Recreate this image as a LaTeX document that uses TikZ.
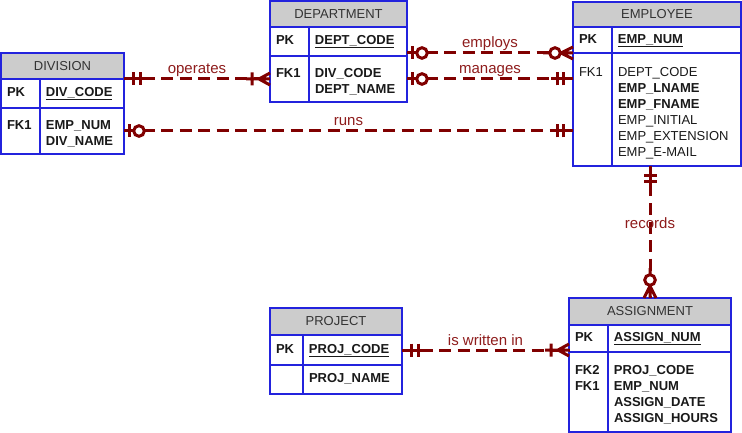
\documentclass[tikz,border=0pt]{standalone}
\usepackage{fontspec}
\setmainfont{Liberation Sans}
\usetikzlibrary{positioning}
\definecolor{eblue}{HTML}{2323DD}
\definecolor{hgray}{HTML}{CCCCCC}
\definecolor{relc}{HTML}{800000}
\definecolor{labc}{HTML}{8E1C1C}
\newcommand\keytab[3]{\begin{tabular}{@{}p{#1}@{\hspace{12pt}}p{#2}@{}}#3\end{tabular}}
\newcommand\gapstrut{\rule{0pt}{18pt}}
\tikzset{
  ehead/.style={draw=eblue,line width=1.5pt,fill=hgray,outer sep=0pt,inner sep=0pt,
    font=\fontsize{13}{16}\selectfont,text=black!80},
  erow/.style={draw=eblue,line width=1.5pt,fill=white,outer sep=0pt,inner xsep=6pt,
    inner ysep=0pt,font=\fontsize{13}{16}\selectfont,text=black!90},
  ecol/.style={draw=eblue,line width=1.5pt},
  rel/.style={draw=relc,line width=3pt,dash pattern=on 12pt off 6.5pt},
  rlab/.style={font=\fontsize{15}{18}\selectfont,text=labc,inner sep=0pt,anchor=base},
  sym/.style={draw=relc,line width=3pt,solid},
  % --- crow's foot ends, local x points away from the entity ---
  mone/.pic={\draw[sym] (0,0) -- (22,0) (9.5,-6.5) -- (9.5,6.5) (16,-6.5) -- (16,6.5);},
  zone/.pic={\draw[sym] (0,0) -- (27,0) (5,-6.5) -- (5,6.5);
    \draw[sym,fill=white] (15,0) circle[radius=5.3pt];},
  oneman/.pic={\draw[sym] (0,0) -- (24,0) (0,-6) -- (11,0) -- (0,6) (18,-6.5) -- (18,6.5);},
  zman/.pic={\draw[sym] (0,0) -- (13,0) (0,-6) -- (12,0) -- (0,6) (23,0) -- (30,0);
    \draw[sym,fill=white] (18,0) circle[radius=5.3pt];},
}
\begin{document}
\begin{tikzpicture}[x=1pt,y=-1pt]
  \useasboundingbox (0,0) rectangle (742,433);
  % DIVISION
  \node[ehead,minimum width=123pt,minimum height=26pt,anchor=north west](div) at (1,53){DIVISION};
  \node[erow,minimum width=123pt,minimum height=29pt,below=0pt of div](div-pk)
    {\bfseries\keytab{27pt}{72pt}{PK & \underline{DIV\_CODE}}};
  \node[erow,minimum width=123pt,minimum height=46pt,below=0pt of div-pk](div-fk)
    {\bfseries\keytab{27pt}{72pt}{FK1\gapstrut & EMP\_NUM\\ & DIV\_NAME}};
  \draw[ecol]([xshift=39pt]div.south west) -- ([xshift=39pt]div-fk.south west);
  % DEPARTMENT
  \node[ehead,minimum width=137pt,minimum height=26pt,anchor=north west](dept) at (270,1){DEPARTMENT};
  \node[erow,minimum width=137pt,minimum height=29pt,below=0pt of dept](dept-pk)
    {\bfseries\keytab{27pt}{86pt}{PK & \underline{DEPT\_CODE}}};
  \node[erow,minimum width=137pt,minimum height=46pt,below=0pt of dept-pk](dept-fk)
    {\bfseries\keytab{27pt}{86pt}{FK1\gapstrut & DIV\_CODE\\ & DEPT\_NAME}};
  \draw[ecol]([xshift=39pt]dept.south west) -- ([xshift=39pt]dept-fk.south west);
  % EMPLOYEE
  \node[ehead,minimum width=168pt,minimum height=25pt,anchor=north west](emp) at (573,2){EMPLOYEE};
  \node[erow,minimum width=168pt,minimum height=26pt,below=0pt of emp](emp-pk)
    {\bfseries\keytab{27pt}{117pt}{PK & \underline{EMP\_NUM}}};
  \node[erow,minimum width=168pt,minimum height=113pt,below=0pt of emp-pk](emp-fk)
    {\keytab{27pt}{117pt}{FK1\gapstrut & DEPT\_CODE\\ & \textbf{EMP\_LNAME}\\ & \textbf{EMP\_FNAME}\\
      & EMP\_INITIAL\\ & EMP\_EXTENSION\\ & EMP\_E-MAIL}};
  \draw[ecol]([xshift=39pt]emp.south west) -- ([xshift=39pt]emp-fk.south west);
  % PROJECT
  \node[ehead,minimum width=132pt,minimum height=27pt,anchor=north west](proj) at (270,308){PROJECT};
  \node[erow,minimum width=132pt,minimum height=30pt,below=0pt of proj](proj-pk)
    {\bfseries\keytab{21pt}{87pt}{PK & \underline{PROJ\_CODE}}};
  \node[erow,minimum width=132pt,minimum height=29pt,below=0pt of proj-pk](proj-at)
    {\bfseries\keytab{21pt}{87pt}{ & PROJ\_NAME}};
  \draw[ecol]([xshift=33pt]proj.south west) -- ([xshift=33pt]proj-at.south west);
  % ASSIGNMENT
  \node[ehead,minimum width=162pt,minimum height=27pt,anchor=north west](asg) at (569,298){ASSIGNMENT};
  \node[erow,minimum width=162pt,minimum height=27pt,below=0pt of asg](asg-pk)
    {\bfseries\keytab{27pt}{111pt}{PK & \underline{ASSIGN\_NUM}}};
  \node[erow,minimum width=162pt,minimum height=80pt,below=0pt of asg-pk](asg-fk)
    {\bfseries\keytab{27pt}{111pt}{FK2\gapstrut & PROJ\_CODE\\ FK1 & EMP\_NUM\\ & ASSIGN\_DATE\\ & ASSIGN\_HOURS}};
  \draw[ecol]([xshift=39pt]asg.south west) -- ([xshift=39pt]asg-fk.south west);

  % relationships
  \draw[rel](div.south east) -- (div.south east -| dept.west)
    node[rlab,midway,yshift=5pt]{operates};
  \pic at (div.south east){mone};
  \pic[rotate=180] at (div.south east -| dept.west){oneman};

  \draw[rel](emp-pk.south west -| dept.east) -- (emp-pk.south west)
    node[rlab,midway,yshift=5pt]{employs};
  \pic at (emp-pk.south west -| dept.east){zone};
  \pic[rotate=180] at (emp-pk.south west){zman};

  \draw[rel](dept-fk.east) -- (dept-fk.east -| emp.west)
    node[rlab,midway,yshift=5pt]{manages};
  \pic at (dept-fk.east){zone};
  \pic[rotate=180] at (dept-fk.east -| emp.west){mone};

  \draw[rel](div-fk.east) -- (div-fk.east -| emp.west)
    node[rlab,midway,yshift=5pt]{runs};
  \pic at (div-fk.east){zone};
  \pic[rotate=180] at (div-fk.east -| emp.west){mone};

  \draw[rel](emp-fk.south -| asg.north) -- (asg.north)
    node[rlab,pos=0.43,anchor=center]{records};
  \pic[rotate=-90] at (emp-fk.south -| asg.north){mone};
  \pic[rotate=90] at (asg.north){zman};

  \draw[rel](proj-pk.east) -- (proj-pk.east -| asg.west)
    node[rlab,midway,yshift=5pt]{is written in};
  \pic at (proj-pk.east){mone};
  \pic[rotate=180] at (proj-pk.east -| asg.west){oneman};
\end{tikzpicture}
\end{document}
